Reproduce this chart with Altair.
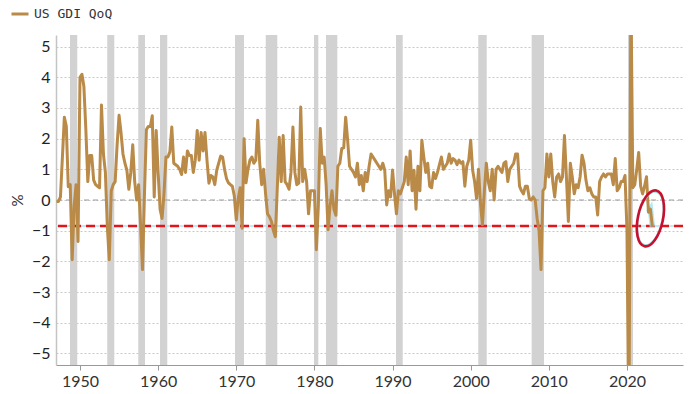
import altair as alt
import pandas as pd

# Quarterly US GDI growth, % QoQ (1947Q1 .. 2023Q2)
gdi_1947_1949 = [
    -0.05, -0.05, 0.1, 1.4,    # 1947
    2.7, 2.4, 0.43, 0.5,       # 1948
    -1.95, -0.2, 0.5, -1.35,   # 1949
]
gdi_1950s = [
    4.0, 4.1, 3.7, 2.3,        # 1950
    0.6, 1.45, 1.45, 0.65,     # 1951
    0.5, 0.45, 0.4, 3.1,       # 1952
    1.5, 0.9, -0.87, -1.95,    # 1953
    0.3, 0.5, 0.6, 1.8,        # 1954
    2.76, 2.2, 1.5, 1.2,       # 1955
    0.97, 0.35, 0.9, 1.8,      # 1956
    0.6, 0.0, 0.5, -0.8,       # 1957
    -2.27, 0.2, 2.3, 2.4,      # 1958
    2.4, 2.75, 0.1, 2.27,      # 1959
]
gdi_1960s = [
    0.9, -0.3, -0.6, 0.2,      # 1960
    1.4, 1.4, 1.57, 2.38,      # 1961
    1.2, 1.15, 1.1, 1.0,       # 1962
    0.83, 1.4, 0.9, 1.6,       # 1963
    1.45, 1.45, 0.9, 1.3,      # 1964
    2.27, 1.3, 2.2, 1.6,       # 1965
    2.2, 1.3, 0.55, 0.8,       # 1966
    0.75, 0.5, 0.97, 1.2,      # 1967
    1.43, 1.4, 1.0, 0.7,       # 1968
    0.56, 0.5, 0.45, 0.13,     # 1969
]
gdi_1970s = [
    -0.65, 0.05, 0.4, -0.92,   # 1970
    2.0, 0.56, 1.0, 1.3,       # 1971
    1.4, 1.2, 1.3, 2.6,        # 1972
    1.2, 0.5, 1.0, 0.2,        # 1973
    -0.45, -0.55, -0.7, -1.0,  # 1974
    -1.2, 0.4, 2.05, 0.6,      # 1975
    2.1, 0.6, 0.5, 0.35,       # 1976
    0.9, 2.38, 0.9, 0.5,       # 1977
    0.55, 3.03, 0.6, 1.0,      # 1978
    0.6, -0.45, 0.3, 0.3,      # 1979
]
gdi_1980s = [
    0.3, -1.62, -0.2, 2.33,    # 1980
    1.2, 1.4, 0.5, -0.97,      # 1981
    -0.2, 0.3, -0.3, -0.5,     # 1982
    1.1, 1.2, 1.68, 1.7,       # 1983
    2.7, 1.95, 1.1, 1.0,       # 1984
    0.9, 0.75, 1.2, 0.5,       # 1985
    0.8, 0.3, 0.9, 0.6,        # 1986
    1.1, 1.5, 1.4, 1.3,        # 1987
    1.2, 1.1, 1.0, 1.2,        # 1988
    0.97, -0.16, 0.3, 0.1,     # 1989
]
gdi_1990s = [
    0.98, 0.2, -0.45, 0.3,     # 1990
    0.2, 0.4, 0.6, 1.4,        # 1991
    0.5, 1.6, 0.3, 0.97,       # 1992
    -0.3, 1.1, 0.3, 1.95,      # 1993
    1.4, 0.9, 1.2, 0.45,       # 1994
    0.4, 0.9, 0.7, 0.9,        # 1995
    1.15, 1.4, 1.0, 1.1,       # 1996
    1.2, 1.5, 1.2, 1.35,       # 1997
    1.3, 1.15, 1.3, 1.2,       # 1998
    1.25, 0.45, 1.1, 1.3,      # 1999
]
gdi_2000s = [
    1.95, 0.97, 0.6, 0.05,     # 2000
    1.0, -0.1, -0.81, 0.3,     # 2001
    1.2, 0.6, 0.3, 1.0,        # 2002
    0.0, 1.0, 1.1, 1.0,        # 2003
    0.9, 1.2, 1.25, 0.6,       # 2004
    1.0, 1.1, 1.2, 1.5,        # 2005
    1.5, 0.45, 0.3, 0.2,       # 2006
    0.45, 0.45, 0.05, 0.0,     # 2007
    0.1, 0.0, -0.6, -1.0,      # 2008
    -2.27, 0.3, 0.4, 1.5,      # 2009
]
gdi_2010s = [
    0.75, 1.5, 0.6, 0.1,       # 2010
    0.75, 0.85, 0.6, 0.75,     # 2011
    2.1, 0.75, -0.7, 1.2,      # 2012
    0.75, 0.2, 0.5, 0.4,       # 2013
    0.75, 1.46, 1.2, 0.65,     # 2014
    0.3, 0.4, 0.2, 0.1,        # 2015
    0.1, -0.49, 0.6, 0.75,     # 2016
    0.85, 0.75, 0.85, 0.85,    # 2017
    0.85, 0.5, 1.35, 0.3,      # 2018
    0.4, 0.6, 0.6, 0.8,        # 2019
]
gdi_2020s = [
    -1.0, -8.0, 7.0, 0.4,      # 2020
    0.5, 1.0, 1.55, 0.45,      # 2021
    0.2, 0.45, 0.76, -0.4,     # 2022
    -0.3, -0.87,               # 2023
]

# Recession shading (decimal years)
rec_start = [1948.72, 1953.49, 1957.46, 1960.24, 1969.84, 1973.77, 1979.95, 1981.48, 1990.44, 2000.97, 2007.8, 2020.13]
rec_end   = [1949.65, 1954.39, 1958.32, 1961.17, 1970.99, 1975.25, 1980.5, 1982.93, 1991.3, 2002.05, 2009.38, 2020.77]

x_ticks = [1950, 1960, 1970, 1980, 1990, 2000, 2010, 2020]
y_ticks = [-5, -4, -3, -2, -1, 0, 1, 2, 3, 4, 5]
ref_level = [-0.85]
highlight_at = [2023.0]
highlight_val = [-0.6]
series_name = "US GDI QoQ"

values = (gdi_1947_1949 + gdi_1950s + gdi_1960s + gdi_1970s + gdi_1980s
          + gdi_1990s + gdi_2000s + gdi_2010s + gdi_2020s)
df = pd.DataFrame({"t": [1947 + i * 0.25 for i in range(len(values))],
                   "v": values, "s": series_name})
bands_df = pd.DataFrame({"start": rec_start, "end": rec_end})
ref_df = pd.DataFrame({"y": ref_level})
zero_df = pd.DataFrame({"y": [0]})
ell_df = pd.DataFrame({"t": highlight_at, "v": highlight_val})
tail_df = df.tail(3)

BROWN = "#b98a48"
xscale = alt.Scale(domain=[1946.93, 2027.17], nice=False, zero=False)
yscale = alt.Scale(domain=[-5.38, 5.38], nice=False, zero=False)

x_axis = alt.Axis(values=x_ticks, format="d", title=None, grid=False,
                  labelFont="Lato", labelFontSize=16, labelColor="#333",
                  tickColor="#999", tickSize=5, domainColor="#999",
                  labelPadding=3)
y_axis = alt.Axis(values=y_ticks, title="%", grid=True, gridDash=[2, 2],
                  gridColor="#c8c8c8", labelFont="Lato", labelFontSize=16,
                  labelColor="#222", ticks=False, labelPadding=6,
                  domainColor="#c4c4c4", domainWidth=1.5,
                  titleFont="Lato", titleFontSize=15, titleFontWeight="normal",
                  titleColor="#333", titleX=-39, titleY=165, titleAngle=270,
                  titleAlign="center", titleBaseline="middle")

X = lambda f: alt.X(f, scale=xscale, axis=x_axis)
Y = lambda f: alt.Y(f, scale=yscale, axis=y_axis)

bands = alt.Chart(bands_df).mark_rect(color="#d2d2d2").encode(
    x=X("start:Q"), x2="end:Q")

zero = alt.Chart(zero_df).mark_rule(color="#9a9a9a", strokeWidth=1,
                                    strokeDash=[5, 4]).encode(y=Y("y:Q"))

cyan_ref = alt.Chart(ref_df).mark_rule(color="#a6e8ef", strokeWidth=1.5).encode(y=Y("y:Q"))
red_ref = alt.Chart(ref_df).mark_rule(color="#e3151b", strokeWidth=2.6,
                                      strokeDash=[9, 5]).encode(y=Y("y:Q"))

glow = alt.Chart(tail_df).mark_line(color="#9fe3ea", strokeWidth=5.5, opacity=0.8).encode(
    x=X("t:Q"), y=Y("v:Q"))

line = alt.Chart(df).mark_line(strokeWidth=3, strokeJoin="round", clip=True).encode(
    x=X("t:Q"), y=Y("v:Q"),
    color=alt.Color("s:N", scale=alt.Scale(range=[BROWN]),
                    legend=alt.Legend(title=None, orient="none", legendX=-46,
                                      legendY=-31, symbolType="stroke",
                                      symbolSize=289, symbolStrokeWidth=3,
                                      labelFont="DejaVu Sans Mono",
                                      labelFontSize=13, labelColor="#333",
                                      labelOffset=4, padding=0)))

ELLIPSE = "M0,-1A0.44,1,0,1,1,0,1A0.44,1,0,1,1,0,-1Z"
ring_cyan = alt.Chart(ell_df).mark_point(shape=ELLIPSE, size=2900, filled=False,
                                         color="#9fe3ea", strokeWidth=1.5,
                                         opacity=1, angle=12).encode(
    x=X("t:Q"), y=Y("v:Q"))
ring = alt.Chart(ell_df).mark_point(shape=ELLIPSE, size=3249, filled=False,
                                    color="#c8102e", strokeWidth=2.6,
                                    opacity=1, angle=12).encode(
    x=X("t:Q"), y=Y("v:Q"))

chart = alt.layer(bands, zero, cyan_ref, red_ref, glow, line, ring_cyan, ring).properties(
    width=627, height=330,
    autosize=alt.AutoSizeParams(type="none"),
    padding={"left": 56, "top": 35, "right": 17, "bottom": 29},
    background="white",
).configure_view(stroke=None)

chart.save("out.html", embed_options={"renderer": "svg", "actions": False})
